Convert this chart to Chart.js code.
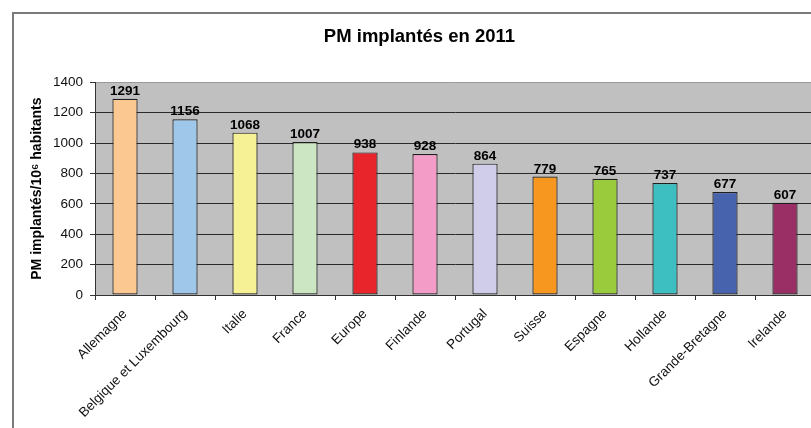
<!DOCTYPE html>
<html>
<head>
<meta charset="utf-8">
<script src="https://cdn.jsdelivr.net/npm/chart.js@4"></script>
<style>
    html, body { margin: 0; padding: 0; background: #fff; overflow: hidden; width: 811px; height: 428px; }
    #frame { position: absolute; left: 12px; top: 12px; width: 900px; height: 500px; border-left: 2px solid #7a7a7a; border-top: 2px solid #7a7a7a; }
    #chart { position: absolute; left: 0; top: 0; }
</style>
</head>
<body>
<div id="frame"></div>
<canvas id="chart" width="830" height="428"></canvas>
<script>
var pays = ['Allemagne', 'Belgique et Luxembourg', 'Italie', 'France', 'Europe', 'Finlande',
    'Portugal', 'Suisse', 'Espagne', 'Hollande', 'Grande-Bretagne', 'Irelande'];
var valeurs = [1291, 1156, 1068, 1007, 938, 928, 864, 779, 765, 737, 677, 607];
var couleurs = ['#fcc891', '#9ec7ea', '#f6f194', '#cce5c2', '#e8252a', '#f49cc8',
    '#cfcde9', '#f7971f', '#9acb3c', '#3dbfc2', '#4763ae', '#9a2f66'];
var graduations = [0, 200, 400, 600, 800, 1000, 1200, 1400];

// fond gris de la zone de tracé
var fondGris = {
    id: 'fondGris',
    beforeDraw: function (chart) {
        var a = chart.chartArea;
        chart.ctx.save();
        chart.ctx.fillStyle = '#c0c0c0';
        chart.ctx.fillRect(a.left, a.top, a.right - a.left, a.bottom - a.top);
        chart.ctx.restore();
    }
};

// valeurs au-dessus des barres
var etiquettes = {
    id: 'etiquettes',
    afterDatasetsDraw: function (chart) {
        var ctx = chart.ctx;
        ctx.save();
        ctx.font = 'bold 13.5px "Liberation Sans", Arial, sans-serif';
        ctx.fillStyle = '#000';
        ctx.textAlign = 'center';
        ctx.textBaseline = 'bottom';
        chart.getDatasetMeta(0).data.forEach(function (bar, i) {
            ctx.fillText(valeurs[i], bar.x, bar.y - 1);
        });
        ctx.restore();
    }
};

new Chart(document.getElementById('chart'), {
    type: 'bar',
    data: {
        labels: pays,
        datasets: [{
            data: valeurs,
            backgroundColor: couleurs,
            borderColor: '#1e1e1e',
            borderWidth: 1.2,
            borderSkipped: false,
            barPercentage: 0.42,
            categoryPercentage: 1
        }]
    },
    options: {
        responsive: false,
        animation: false,
        layout: { padding: { left: 24, right: 15, top: 0, bottom: 0 } },
        plugins: {
            legend: { display: false },
            tooltip: { enabled: false },
            title: {
                display: true,
                text: 'PM implantés en 2011',
                color: '#000',
                font: { family: '"Liberation Sans", Arial, sans-serif', size: 18.5, weight: 'bold' },
                padding: { top: 26, bottom: 34 }
            }
        },
        scales: {
            x: {
                grid: {
                    offset: true,
                    drawOnChartArea: false,
                    drawTicks: true,
                    tickLength: 5,
                    tickColor: '#333'
                },
                border: { color: '#333', width: 1 },
                ticks: {
                    color: '#111',
                    font: { family: '"Liberation Sans", Arial, sans-serif', size: 13.5 },
                    minRotation: 45,
                    maxRotation: 45,
                    padding: 6,
                    autoSkip: false
                },
                afterFit: function (scale) { scale.height = 133; }
            },
            y: {
                min: 0,
                max: 1400,
                afterBuildTicks: function (scale) {
                    scale.ticks = graduations.map(function (v) { return { value: v }; });
                },
                grid: {
                    color: function (c) { return c.tick.value === 1400 ? '#9a9a9a' : '#2a2a2a'; },
                    tickColor: '#333',
                    tickLength: 5,
                    lineWidth: 1
                },
                border: { color: '#333', width: 1 },
                ticks: {
                    color: '#111',
                    font: { family: '"Liberation Sans", Arial, sans-serif', size: 13.5 },
                    padding: 7,
                    callback: function (v) { return String(v); }
                },
                title: {
                    display: true,
                    text: 'PM implantés/10⁶ habitants',
                    color: '#000',
                    font: { family: '"Liberation Sans", Arial, sans-serif', size: 14, weight: 'bold' },
                    padding: { top: 5, bottom: 0 }
                },
                afterFit: function (scale) { scale.width = 71; }
            }
        }
    },
    plugins: [fondGris, etiquettes]
});
</script>
</body>
</html>
